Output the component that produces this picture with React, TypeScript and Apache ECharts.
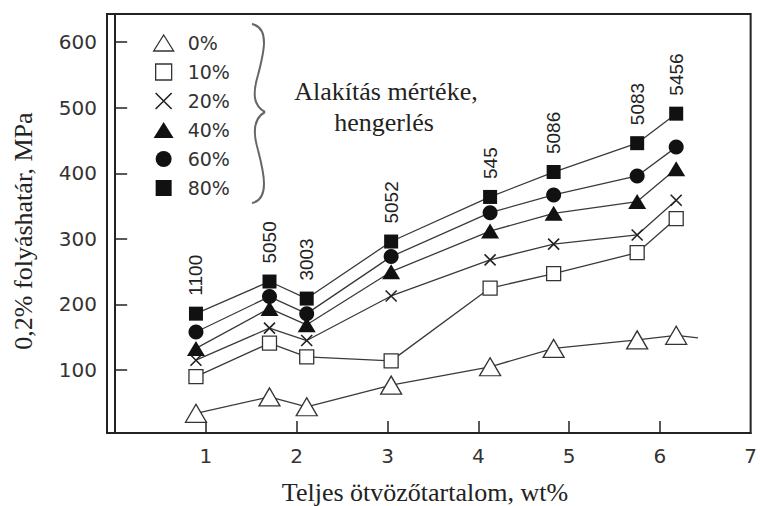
import { useEffect, useRef } from "react";
import * as echarts from "echarts";

// Total alloy content (wt%) of each alloy and its designation
const alloyContent = [0.89, 1.7, 2.11, 3.04, 4.13, 4.83, 5.75, 6.18];
const alloyNames = ["1100", "5050", "3003", "5052", "545", "5086", "5083", "5456"];

// 0.2% yield strength (MPa) per degree of cold rolling
const reductionNames = ["0%", "10%", "20%", "40%", "60%", "80%"];
const yield0 = [34, 59, 44, 77, 105, 133, 146, 153];
const yield0Tail = [6.42, 149];
const yield10 = [90, 141, 120, 114, 225, 247, 279, 331];
const yield20 = [115, 164, 145, 213, 268, 292, 306, 359];
const yield40 = [133, 194, 169, 250, 312, 339, 357, 407];
const yield60 = [158, 212, 186, 273, 340, 367, 396, 440];
const yield80 = [186, 235, 209, 296, 364, 402, 446, 491];

const xTicks = [1, 2, 3, 4, 5, 6, 7];
const yTicks = [100, 200, 300, 400, 500, 600];

const INK = "#222";
const LINE = "#3a3a3a";
const crossPath = "path://M0,0L10,10M10,0L0,10";
const squarePath = "path://M0,0H10V10H0Z";
const circlePath = "path://M5,0A5,5,0,1,1,5,10A5,5,0,1,1,5,0Z";

type Marker = {
  symbol: string;
  legendIcon: string;
  size: number | number[];
  fill: string;
  border: string;
  borderWidth: number;
};

const markers: Marker[] = [
  { symbol: "triangle", legendIcon: "triangle", size: [21, 18], fill: "#fff", border: "#333", borderWidth: 1.3 },
  { symbol: "rect", legendIcon: squarePath, size: 14, fill: "#fff", border: "#333", borderWidth: 1.3 },
  { symbol: crossPath, legendIcon: crossPath, size: 11, fill: "#222", border: "#222", borderWidth: 1.6 },
  { symbol: "triangle", legendIcon: "triangle", size: [18, 15], fill: "#111", border: "#111", borderWidth: 0 },
  { symbol: "circle", legendIcon: circlePath, size: 15, fill: "#111", border: "#111", borderWidth: 0 },
  { symbol: "rect", legendIcon: squarePath, size: 14, fill: "#111", border: "#111", borderWidth: 0 },
];

const seriesValues = [yield0, yield10, yield20, yield40, yield60, yield80];

export default function App() {
  const ref = useRef<HTMLDivElement>(null);

  useEffect(() => {
    if (!ref.current) return;
    const chart = echarts.init(ref.current, undefined, { renderer: "svg" });

    const series: any[] = seriesValues.map((vals, i) => {
      const m = markers[i];
      const data: any[] = vals.map((v, k) => [alloyContent[k], v]);
      if (i === 0) {
        data.push({ value: yield0Tail, symbol: "none" });
      }
      const s: any = {
        name: reductionNames[i],
        type: "line",
        data,
        symbol: m.symbol,
        symbolSize: m.size,
        symbolKeepAspect: false,
        lineStyle: { color: LINE, width: 1.3 },
        itemStyle: { color: m.fill, borderColor: m.border, borderWidth: m.borderWidth },
        emphasis: { disabled: true },
        z: 2 + i,
      };
      if (i === 5) {
        s.label = {
          show: true,
          position: "top",
          distance: 11,
          rotate: 90,
          align: "left",
          verticalAlign: "middle",
          formatter: (p: any) => alloyNames[p.dataIndex],
          fontFamily: "Liberation Sans",
          fontSize: 19,
          color: INK,
        };
      }
      return s;
    });

    const brace = [
      [252, 24, 270, 28, 264, 52, 258, 75],
      [258, 75, 252, 95, 254, 106, 265, 112],
      [265, 112, 254, 118, 252, 130, 258, 150],
      [258, 150, 264, 173, 270, 199, 252, 203],
    ].map((c) => ({
      type: "bezierCurve",
      shape: { x1: c[0], y1: c[1], cpx1: c[2], cpy1: c[3], cpx2: c[4], cpy2: c[5], x2: c[6], y2: c[7] },
      style: { stroke: "#666", lineWidth: 2, fill: null },
      silent: true,
    }));

    const serifFont = (size: number) => `${size}px "Liberation Serif", "Times New Roman", serif`;

    chart.setOption({
      animation: false,
      backgroundColor: "#fff",
      grid: {
        left: 107,
        top: 14,
        right: 5,
        bottom: 73,
        show: true,
        borderColor: INK,
        borderWidth: 2,
        containLabel: false,
      },
      legend: {
        orient: "vertical",
        left: 153,
        top: 33,
        padding: 0,
        itemWidth: 20,
        itemHeight: 16,
        itemGap: 9,
        selectedMode: false,
        symbolKeepAspect: true,
        textStyle: {
          fontFamily: "DejaVu Sans",
          fontSize: 19,
          lineHeight: 20,
          color: "#333",
          padding: [0, 0, 0, 9],
        },
        data: reductionNames.map((name, i) => ({
          name,
          icon: markers[i].legendIcon,
          itemStyle: {
            color: markers[i].fill,
            borderColor: markers[i].border,
            borderWidth: markers[i].borderWidth,
          },
        })),
      },
      xAxis: {
        type: "value",
        min: -0.09,
        max: 7,
        axisLine: { show: true, lineStyle: { color: INK, width: 2 } },
        axisTick: { show: true, inside: true, length: 12, customValues: xTicks.slice(0, 6), lineStyle: { color: INK, width: 1.5 } },
        axisLabel: { customValues: xTicks, fontFamily: "DejaVu Sans", fontSize: 20, color: "#333", margin: 13 },
        splitLine: { show: false },
      },
      yAxis: {
        type: "value",
        min: 4,
        max: 643,
        axisLine: { show: true, lineStyle: { color: INK, width: 2 } },
        axisTick: { show: true, inside: true, length: 12, customValues: yTicks, lineStyle: { color: INK, width: 1.5 } },
        axisLabel: { customValues: yTicks, fontFamily: "DejaVu Sans", fontSize: 20, color: "#333", margin: 10 },
        splitLine: { show: false },
      },
      graphic: [
        ...brace,
        {
          type: "text",
          x: 386,
          y: 91,
          silent: true,
          style: { text: "Alakítás mértéke,", font: serifFont(26), fill: INK, align: "center", verticalAlign: "middle" },
        },
        {
          type: "text",
          x: 384,
          y: 122,
          silent: true,
          style: { text: "hengerlés", font: serifFont(26), fill: INK, align: "center", verticalAlign: "middle" },
        },
        {
          type: "text",
          x: 425,
          y: 492,
          silent: true,
          style: { text: "Teljes ötvözőtartalom, wt%", font: serifFont(26), fill: INK, align: "center", verticalAlign: "middle" },
        },
        {
          type: "text",
          x: 23,
          y: 231,
          rotation: Math.PI / 2,
          silent: true,
          style: { text: "0,2% folyáshatár, MPa", font: serifFont(26), fill: INK, align: "center", verticalAlign: "middle" },
        },
      ],
      series,
    });

    return () => chart.dispose();
  }, []);

  return (
    <div
      ref={ref}
      style={{ position: "fixed", left: 0, top: 0, width: 760, height: 506, background: "#fff" }}
    />
  );
}
